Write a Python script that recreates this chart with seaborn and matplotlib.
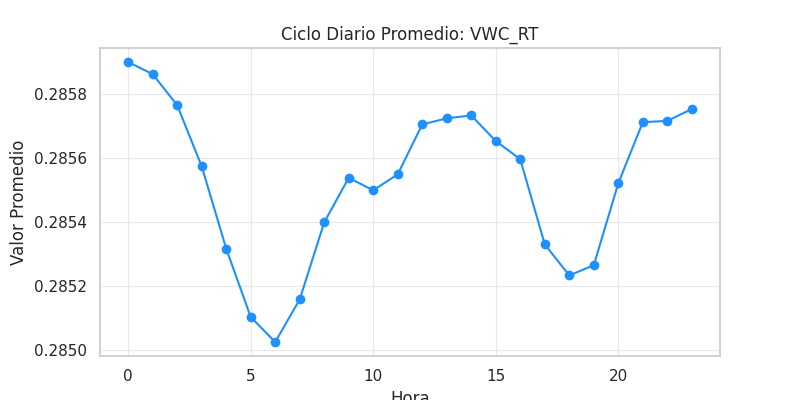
import matplotlib
matplotlib.use("Agg")
import matplotlib.pyplot as plt
import seaborn as sns
import pandas as pd

# Hourly mean values
horas = list(range(24))
valores = [0.285900, 0.285862, 0.285765, 0.285574, 0.285317, 0.285103,
           0.285025, 0.285158, 0.285399, 0.285538, 0.285499, 0.285549,
           0.285705, 0.285724, 0.285733, 0.285653, 0.285596, 0.285330,
           0.285233, 0.285265, 0.285521, 0.285712, 0.285716, 0.285753]

df = pd.DataFrame({"Hora": horas, "Valor": valores})

sns.set_theme(style="whitegrid")
fig, ax = plt.subplots(figsize=(8, 4), dpi=100)

sns.lineplot(data=df, x="Hora", y="Valor", color="#1E90FF",
             marker="o", markersize=7, markeredgewidth=0, linewidth=1.5, ax=ax)

ax.grid(True, color="#e8e8e8", linewidth=0.8)
ax.set_title("Ciclo Diario Promedio: VWC_RT")
ax.set_xlabel("Hora")
ax.set_ylabel("Valor Promedio")

fig.savefig("out.png", dpi=100)
